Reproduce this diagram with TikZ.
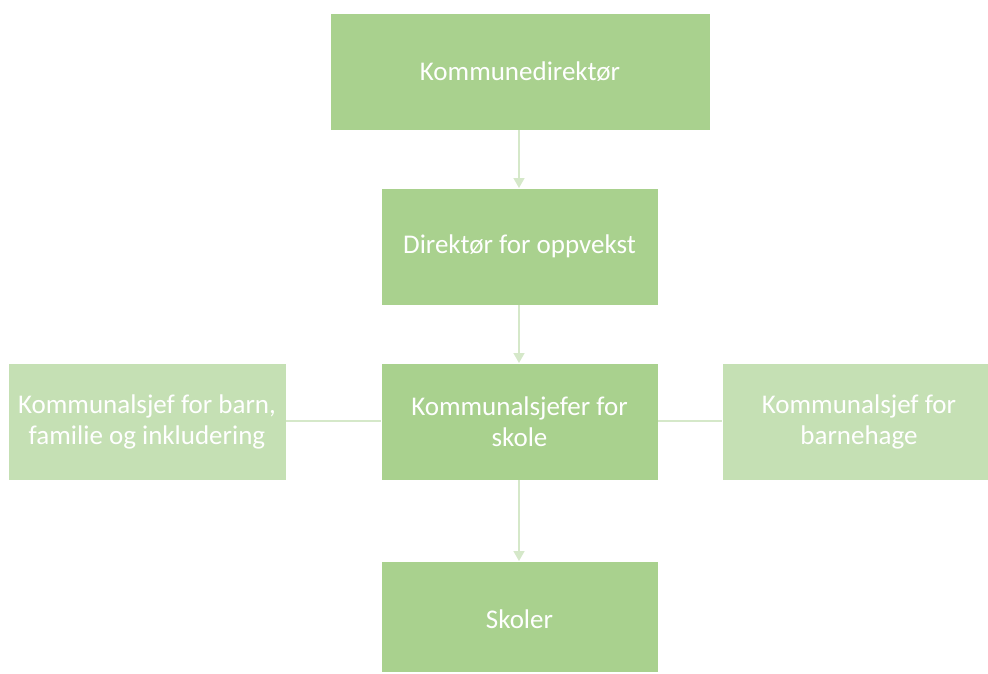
\documentclass[tikz,border=0pt]{standalone}
\usepackage{fontspec}
\setmainfont{Carlito}
\usetikzlibrary{arrows.meta}
\definecolor{mainbox}{HTML}{A9D18E}
\definecolor{sidebox}{HTML}{C5E0B4}
\definecolor{linkc}{HTML}{D5E8C9}
\begin{document}
\begin{tikzpicture}[x=1pt,y=-1pt,
  box/.style={fill=mainbox,draw=white,line width=0.8pt},
  sbox/.style={box,fill=sidebox},
  lbl/.style={text=white,align=center,font=\fontsize{27}{31}\selectfont},
  link/.style={draw=linkc,line width=1.6pt},
  arr/.style={link,-{Triangle[width=11pt,length=10pt]}}]
\useasboundingbox (0,0) rectangle (988,673);
\path[box] (330,13) rectangle (710,130);
\node[lbl] (a) at (520,71.5) {Kommunedirektør};
\coordinate (aB) at (519,130);
\path[box] (381,188) rectangle (658,305);
\node[lbl] (b) at (519.5,246.5) {Direktør for oppvekst};
\coordinate (bT) at (519,188);
\coordinate (bB) at (519,305);
\path[box] (381,363) rectangle (658,480);
\node[lbl] (c) at (519.5,421.5) {Kommunalsjefer for\\skole};
\coordinate (cT) at (519,363);
\coordinate (cB) at (519,480);
\coordinate (cL) at (381,421);
\coordinate (cR) at (658,421);
\path[sbox] (8,363) rectangle (286,480);
\node[lbl] (l) at (147,421.5) {Kommunalsjef for barn,\\familie og inkludering};
\coordinate (lR) at (286,421);
\path[sbox] (722,363) rectangle (988,480);
\node[lbl] (r) at (859,421.5) {Kommunalsjef for\\barnehage};
\coordinate (rL) at (722,421);
\path[box] (381,561) rectangle (658,672);
\node[lbl] (s) at (519.5,619) {Skoler};
\coordinate (sT) at (519,561);
\draw[arr] (aB) -- (bT);
\draw[arr] (bB) -- (cT);
\draw[arr] (cB) -- (sT);
\draw[link] (lR) -- (cL);
\draw[link] (cR) -- (rL);
\end{tikzpicture}
\end{document}
